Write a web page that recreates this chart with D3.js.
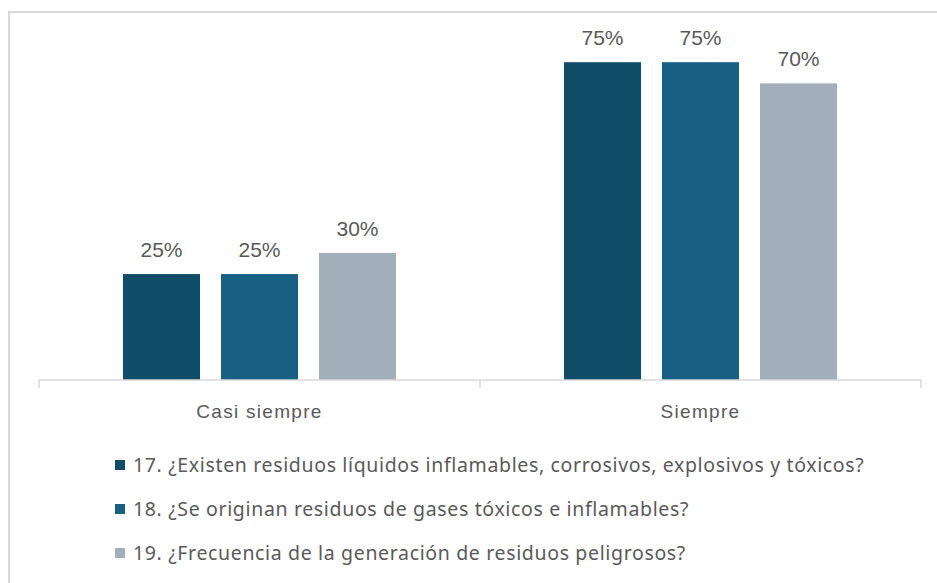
<!DOCTYPE html>
<html>
<head>
<meta charset="utf-8">
<script src="https://cdn.jsdelivr.net/npm/d3@7"></script>
<style>
  body { margin: 0; background: #fff; }
  svg { display: block; }
</style>
</head>
<body>
<svg id="chart" width="937" height="583"></svg>
<script>
var categories = ["Casi siempre", "Siempre"];
var seriesNames = [
  "17. ¿Existen residuos líquidos inflamables, corrosivos, explosivos y tóxicos?",
  "18. ¿Se originan residuos de gases tóxicos e inflamables?",
  "19. ¿Frecuencia de la generación de residuos peligrosos?"
];
var seriesColors = ["#0f4d69", "#176083", "#a2afba"];
// values per series, one per category
var q17 = [0.25, 0.75];
var q18 = [0.25, 0.75];
var q19 = [0.30, 0.70];
var allSeries = [q17, q18, q19];

var svg = d3.select('#chart');

// chart frame (light border, cut off at right / bottom)
svg.append('rect')
  .attr('x', 9)
  .attr('y', 12)
  .attr('width', 940)
  .attr('height', 600)
  .attr('fill', 'none')
  .attr('stroke', '#d9d9d9')
  .attr('stroke-width', 2);

var x0 = d3.scaleBand()
  .domain(categories)
  .range([39, 921])
  .paddingInner(0)
  .paddingOuter(0);

var x1 = d3.scaleBand()
  .domain(d3.range(allSeries.length))
  .range([0, x0.bandwidth()])
  .paddingInner(0.214)
  .paddingOuter(0.857);

var y = d3.scaleLinear()
  .domain([0, 0.8])
  .range([380, 41]);

var groups = svg.selectAll('.group')
  .data(categories)
  .enter()
  .append('g')
  .attr('class', 'group')
  .attr('transform', function(d){ return 'translate(' + x0(d) + ',0)'; });

groups.selectAll('rect')
  .data(function(d, ci){
    return allSeries.map(function(s, si){ return {si: si, v: s[ci]}; });
  })
  .enter()
  .append('rect')
  .attr('x', function(d){ return x1(d.si); })
  .attr('width', x1.bandwidth())
  .attr('y', function(d){ return y(d.v); })
  .attr('height', function(d){ return y(0) - y(d.v); })
  .attr('fill', function(d){ return seriesColors[d.si]; });

groups.selectAll('text.lbl')
  .data(function(d, ci){
    return allSeries.map(function(s, si){ return {si: si, v: s[ci]}; });
  })
  .enter()
  .append('text')
  .attr('class', 'lbl')
  .attr('x', function(d){ return x1(d.si) + x1.bandwidth() / 2; })
  .attr('y', function(d){ return y(d.v) - 17; })
  .attr('text-anchor', 'middle')
  .attr('font-family', 'Liberation Sans, Arial, sans-serif')
  .attr('font-size', '21px')
  .attr('fill', '#595959')
  .text(function(d){ return d3.format('.0%')(d.v); });

// category axis
var xAxis = d3.axisBottom(x0).tickSize(0).tickPadding(0);
var axisG = svg.append('g')
  .attr('transform', 'translate(0,' + y(0) + ')')
  .call(xAxis);
axisG.select('.domain').remove();
axisG.selectAll('.tick text')
  .attr('dy', 0)
  .attr('y', 37.5)
  .attr('font-family', 'Liberation Sans, Arial, sans-serif')
  .attr('font-size', '19px')
  .attr('letter-spacing', '1.3px')
  .attr('fill', '#595959');

svg.append('line')
  .attr('x1', x0.range()[0]).attr('x2', x0.range()[1])
  .attr('y1', y(0)).attr('y2', y(0))
  .attr('stroke', '#d9d9d9')
  .attr('stroke-width', 1.5);

var boundaries = categories.map(function(c){ return x0(c); }).concat([x0.range()[1]]);
svg.selectAll('.sep')
  .data(boundaries)
  .enter()
  .append('line')
  .attr('class', 'sep')
  .attr('x1', function(d){ return d; }).attr('x2', function(d){ return d; })
  .attr('y1', y(0)).attr('y2', y(0) + 8)
  .attr('stroke', '#d9d9d9')
  .attr('stroke-width', 1.5);

// legend
var legend = svg.selectAll('.legendItem')
  .data(seriesNames)
  .enter()
  .append('g')
  .attr('class', 'legendItem')
  .attr('transform', function(d, i){ return 'translate(115,' + (465 + i * 44) + ')'; });

legend.append('rect')
  .attr('x', 0).attr('y', -5)
  .attr('width', 10).attr('height', 10)
  .attr('fill', function(d, i){ return seriesColors[i]; });

legend.append('text')
  .attr('x', 18)
  .attr('y', 6.8)
  .attr('font-family', 'Noto Sans, sans-serif')
  .attr('font-size', '19.5px')
  .attr('letter-spacing', '0.65px')
  .attr('fill', '#595959')
  .text(function(d){ return d; });
</script>
</body>
</html>
